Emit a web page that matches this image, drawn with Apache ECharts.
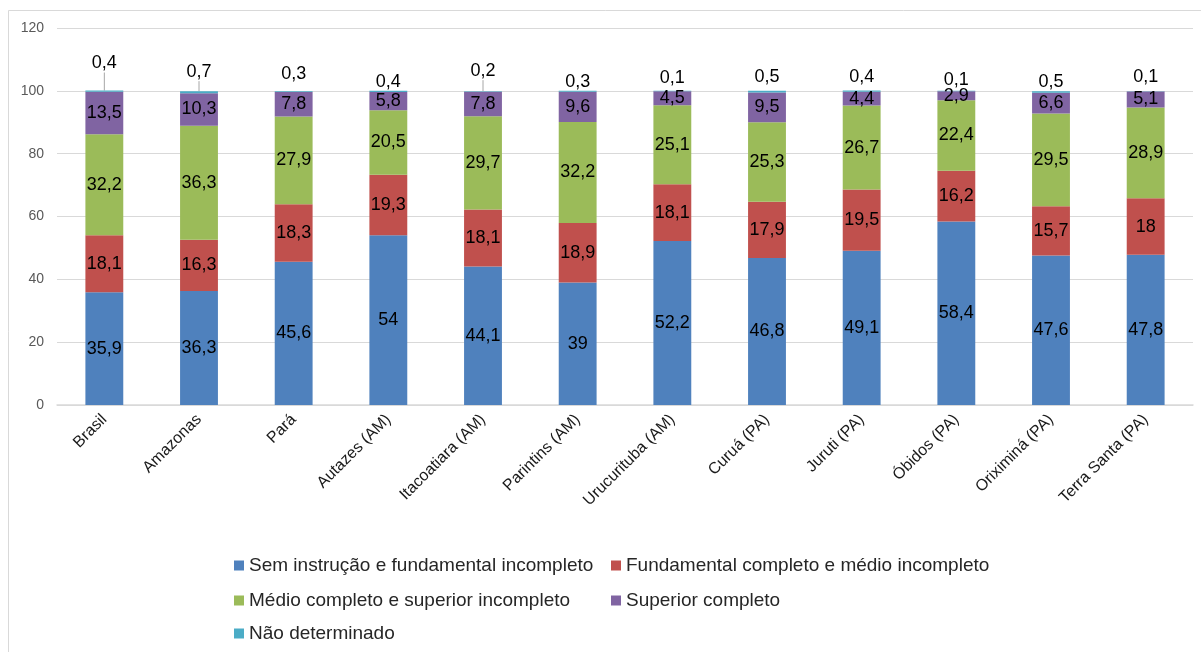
<!DOCTYPE html>
<html>
<head>
<meta charset="utf-8">
<script src="https://cdn.jsdelivr.net/npm/echarts@6/dist/echarts.min.js"></script>
<style>
  html, body { margin: 0; padding: 0; background: #ffffff; }
  #chart { width: 1201px; height: 652px; }
</style>
</head>
<body>
<div id="chart"></div>
<script>
// Escolaridade da população (%) por localidade
const categories = ['Brasil', 'Amazonas', 'Pará', 'Autazes (AM)', 'Itacoatiara (AM)', 'Parintins (AM)',
  'Urucurituba (AM)', 'Curuá (PA)', 'Juruti (PA)', 'Óbidos (PA)', 'Oriximiná (PA)', 'Terra Santa (PA)'];

const semInstrucao = [35.9, 36.3, 45.6, 54, 44.1, 39, 52.2, 46.8, 49.1, 58.4, 47.6, 47.8];
const fundamentalCompleto = [18.1, 16.3, 18.3, 19.3, 18.1, 18.9, 18.1, 17.9, 19.5, 16.2, 15.7, 18];
const medioCompleto = [32.2, 36.3, 27.9, 20.5, 29.7, 32.2, 25.1, 25.3, 26.7, 22.4, 29.5, 28.9];
const superiorCompleto = [13.5, 10.3, 7.8, 5.8, 7.8, 9.6, 4.5, 9.5, 4.4, 2.9, 6.6, 5.1];
const naoDeterminado = [0.4, 0.7, 0.3, 0.4, 0.2, 0.3, 0.1, 0.5, 0.4, 0.1, 0.5, 0.1];

const yTicks = [0, 20, 40, 60, 80, 100, 120];

const seriesNames = [
  'Sem instrução e fundamental incompleto',
  'Fundamental completo e médio incompleto',
  'Médio completo e superior incompleto',
  'Superior completo',
  'Não determinado'
];
const colors = ['#4f81bd', '#c0504d', '#9bbb59', '#8064a2', '#4bacc6'];

// extra lift (px) of the small "Não determinado" labels above each column
const smallLabelLift = [18, 10, 8, 0, 11, 0, 4, 5, 4, 2, 0, 5];
const withLeader = [0, 1, 4];

const fmt = v => String(v).replace('.', ',');
const FONT = '"Liberation Sans", Arial, sans-serif';

function stackSeries(name, values, color) {
  return {
    name, type: 'bar', stack: 'total', barWidth: '40%',
    itemStyle: { color },
    label: {
      show: true, position: 'inside', color: '#000', fontSize: 18, fontFamily: FONT,
      formatter: p => fmt(p.value)
    },
    data: values
  };
}

const chart = echarts.init(document.getElementById('chart'), null, { renderer: 'canvas' });

const legendPos = [
  { left: 234, top: 556 },
  { left: 611, top: 556 },
  { left: 234, top: 591 },
  { left: 611, top: 591 },
  { left: 234, top: 624 }
];

chart.setOption({
  animation: false,
  backgroundColor: '#ffffff',
  graphic: [{
    type: 'rect', silent: true, z: -10,
    shape: { x: 8.5, y: 10.5, width: 1200, height: 700 },
    style: { fill: 'none', stroke: '#d9d9d9', lineWidth: 1 }
  }],
  grid: { left: 57, right: 8, top: 28, bottom: 247, containLabel: false },
  legend: seriesNames.map((n, i) => ({
    data: [n], left: legendPos[i].left, top: legendPos[i].top,
    icon: 'rect', itemWidth: 10, itemHeight: 10, padding: 0,
    textStyle: { fontSize: 19, color: '#262626', fontFamily: FONT }
  })),
  xAxis: {
    type: 'category', data: categories,
    axisLine: { lineStyle: { color: '#d9d9d9', width: 1.5 } },
    axisTick: { show: false },
    axisLabel: { rotate: 45, interval: 0, margin: 12, fontSize: 16, color: '#1a1a1a', fontFamily: FONT }
  },
  yAxis: {
    type: 'value', min: yTicks[0], max: yTicks[yTicks.length - 1], interval: 20,
    axisLine: { show: false }, axisTick: { show: false },
    axisLabel: { fontSize: 14, color: '#595959', margin: 13, fontFamily: FONT },
    splitLine: { lineStyle: { color: '#d9d9d9', width: 1 } }
  },
  series: [
    stackSeries(seriesNames[0], semInstrucao, colors[0]),
    stackSeries(seriesNames[1], fundamentalCompleto, colors[1]),
    stackSeries(seriesNames[2], medioCompleto, colors[2]),
    stackSeries(seriesNames[3], superiorCompleto, colors[3]),
    {
      name: seriesNames[4], type: 'bar', stack: 'total', barWidth: '40%',
      itemStyle: { color: colors[4] },
      label: {
        show: true, position: 'top', distance: 0, color: '#000', fontSize: 18, fontFamily: FONT,
        formatter: p => fmt(p.value)
      },
      labelLine: { show: false, lineStyle: { color: '#a6a6a6', width: 1 } },
      labelLayout: p => ({ dy: -smallLabelLift[p.dataIndex] }),
      data: naoDeterminado.map((v, i) => ({
        value: v,
        labelLine: { show: withLeader.includes(i), lineStyle: { color: '#a6a6a6', width: 1 } }
      }))
    }
  ]
});
</script>
</body>
</html>
